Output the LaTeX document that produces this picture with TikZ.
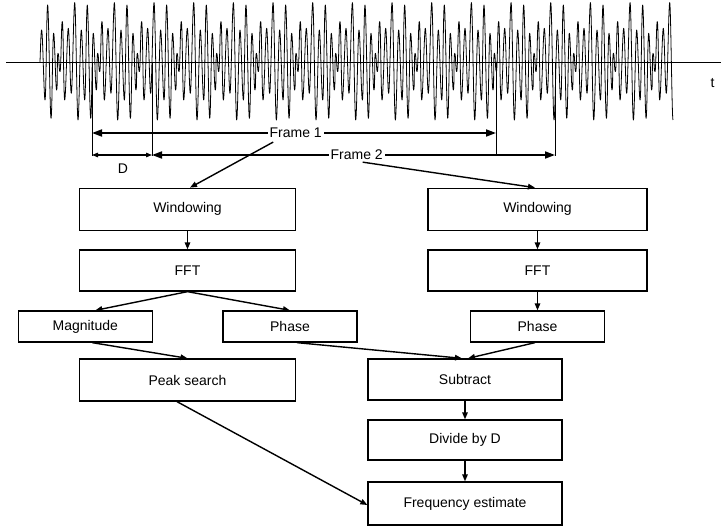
\documentclass[tikz,border=0pt]{standalone}
\usepackage{fontspec}
\setmainfont{Liberation Sans}
\usetikzlibrary{arrows.meta}
\begin{document}
\begin{tikzpicture}[x=1pt,y=-1pt,
  txt/.style={font=\fontsize{14}{16}\selectfont},
  box/.style={draw, line width=1.3pt, minimum width=216pt, minimum height=42pt, inner sep=0pt, txt},
  sbox/.style={box, minimum width=134pt, minimum height=31pt},
  arr/.style={-{Triangle[length=7pt,width=5.5pt]}, line width=1.4pt},
  farr/.style={{Triangle[length=10pt,width=7pt]}-{Triangle[length=10pt,width=7pt]}, line width=1.8pt},
  darr/.style={{Triangle[length=6pt,width=4.5pt]}-{Triangle[length=6pt,width=4.5pt]}, line width=1.2pt},
  markline/.style={line width=0.8pt},
  wave/.style={line width=0.8pt, line join=round},
  lab/.style={txt, fill=white, inner xsep=2pt, inner ysep=1pt}]
\useasboundingbox (0,0) rectangle (721,532);

% time axis
\coordinate (ax0) at (6,62.3);
\coordinate (ax1) at (721,62.3);
\draw[line width=1pt] (ax0) -- (ax1);
\node[txt, anchor=center] (tl) at (712.5,83) {t};

% waveform
\draw[wave] (40,62.3) .. controls (40.6,45) and (41.0,30) .. (41.63,30.0)
  \foreach \o/\h in {26.7/-37.7, 29.3/57.3, 32.7/-56, 35.3/29, 38.3/-27.7}
    { .. controls +(1.1,0) and +(-1.1,0) .. ({18.33+\o},{62.3-\h}) }
  \foreach \k in {1,...,15}{
    \foreach \o/\h in {0/9, 2/-9.3, 4.3/40.7, 6.7/-37.7, 10.3/34, 13.3/-31, 16.7/59.7, 20/-57.7, 23.3/32.3, 26.7/-37.7, 29.3/57.3, 32.7/-56, 35.3/29, 38.3/-27.7}
      { .. controls +(1.1,0) and +(-1.1,0) .. ({18.33+39.67*\k+\o},{62.3-\h}) }
  }
  \foreach \o/\h in {0/9, 2/-9.3, 4.3/40.7, 6.7/-37.7, 10.3/34, 13.3/-31, 16.7/59.7, 20/-57.7}
    { .. controls +(1.1,0) and +(-1.1,0) .. ({653+\o},{62.3-\h}) };

% frame markers
\coordinate (m1t) at (92,62.3);  \coordinate (m1b) at (92,156);
\coordinate (m2t) at (152,62.3); \coordinate (m2b) at (152,156);
\coordinate (m3t) at (496,62.3); \coordinate (m3b) at (496,156);
\coordinate (m4t) at (555,62.3); \coordinate (m4b) at (555,156);
\draw[markline] (m1t) -- (m1b);
\draw[markline] (m2t) -- (m2b);
\draw[markline] (m3t) -- (m3b);
\draw[markline] (m4t) -- (m4b);

\coordinate (fa1) at (92,133);  \coordinate (fb1) at (496,133);
\coordinate (fa2) at (152,155); \coordinate (fb2) at (555,155);
\coordinate (da) at (92,155);   \coordinate (db) at (152,155);
\draw[farr] (fa1) -- (fb1);
\draw[farr] (fa2) -- (fb2);
\draw[darr] (da) -- (db);
\node[lab] (fr1) at (295.7,133) {Frame 1};
\node[lab] (fr2) at (356.7,155) {Frame 2};
\node[txt] (dl) at (123,168.5) {D};

% boxes
\node[box] (lwin) at (187.5,209.3) {Windowing};
\node[box, minimum height=41pt] (lfft) at (187.5,270.5) {FFT};
\node[sbox] (mag) at (85.3,326.5) {Magnitude};
\node[sbox] (lph) at (290,326.5) {Phase};
\node[box] (peak) at (187.5,380) {Peak search};

\node[box, minimum width=219pt] (rwin) at (537.5,209.3) {Windowing};
\node[box, minimum width=219pt, minimum height=41pt] (rfft) at (537.5,270.5) {FFT};
\node[sbox] (rph) at (537.5,326.5) {Phase};

\node[box, minimum width=194pt, minimum height=41pt] (sub) at (465,379.5) {Subtract};
\node[box, minimum width=194pt, minimum height=40pt] (div) at (465,440) {Divide by D};
\node[box, minimum width=194pt, minimum height=43pt] (freq) at (465,503.5) {Frequency estimate};

% connectors
\draw[arr] ([xshift=-22.5pt,yshift=-3pt]fr1.south) -- ([xshift=2.5pt]lwin.north);
\draw[arr] ([xshift=6pt,yshift=-1pt]fr2.south) -- ([xshift=-2.5pt]rwin.north);
\draw[arr] (lwin) -- (lfft);
\draw[arr] (lfft.south) -- ([xshift=10pt]mag.north);
\draw[arr] (lfft.south) -- (lph.north);
\draw[arr] ([xshift=7pt]mag.south) -- (peak.north);
\draw[arr] ([xshift=7pt]lph.south) -- ([xshift=-3pt]sub.north);
\draw[arr] ([xshift=-2.5pt]rph.south) -- ([xshift=3pt]sub.north);
\draw[arr] (rwin) -- (rfft);
\draw[arr] (rfft) -- (rph);
\draw[arr] (sub) -- (div);
\draw[arr] (div) -- (freq);
\draw[arr] ([xshift=-10.5pt]peak.south) -- ([yshift=-1.5pt]freq.west);
\end{tikzpicture}
\end{document}
